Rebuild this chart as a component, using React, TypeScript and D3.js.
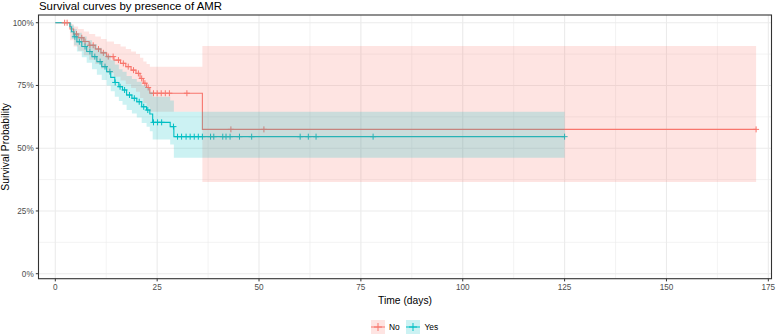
import React from "react";
import * as d3 from "d3";

const W = 776;
const H = 335;

const groups = ["No", "Yes"];
const lineColors = ["#F8766D", "#00BFC4"];

// Kaplan–Meier estimates for patients without AMR
const noTime = [0, 3.6, 4.5, 5.6, 7.0, 8.3, 9.8, 11.2, 12.6, 14.4, 16.0, 17.3, 18.6, 19.8, 20.8, 21.6, 22.4, 23.2, 36.1];
const noSurv = [1, 0.975, 0.955, 0.94, 0.925, 0.91, 0.895, 0.88, 0.865, 0.851, 0.838, 0.825, 0.811, 0.798, 0.778, 0.759, 0.742, 0.719, 0.575];
const noUpper = [1, 0.995, 0.985, 0.975, 0.965, 0.955, 0.945, 0.935, 0.925, 0.915, 0.905, 0.895, 0.885, 0.875, 0.86, 0.845, 0.835, 0.825, 0.907];
const noLower = [1, 0.93, 0.905, 0.888, 0.87, 0.852, 0.835, 0.818, 0.8, 0.785, 0.77, 0.755, 0.74, 0.725, 0.7, 0.68, 0.665, 0.645, 0.365];
const noCensor = [2.3, 2.9, 5.2, 6.5, 7.3, 8.5, 9.3, 10.6, 11.8, 13.0, 14.2, 15.5, 16.7, 17.9, 19.2, 20.4, 21.2, 22.0, 22.8, 24.1, 25.0, 26.0, 27.0, 28.0, 32.3, 43.1, 51.2, 172];
const noEnd = 172;

// Kaplan–Meier estimates for patients with AMR
const yesTime = [0, 3.6, 4.0, 4.6, 5.3, 6.5, 7.7, 9.0, 10.2, 11.4, 12.6, 13.6, 14.6, 15.6, 16.5, 17.5, 18.8, 20.0, 21.2, 22.4, 23.2, 23.9, 28.2, 29.1];
const yesSurv = [1, 0.984, 0.964, 0.944, 0.924, 0.905, 0.885, 0.865, 0.845, 0.825, 0.805, 0.782, 0.762, 0.745, 0.732, 0.712, 0.699, 0.685, 0.665, 0.652, 0.636, 0.603, 0.586, 0.546];
const yesUpper = [1, 1.0, 0.99, 0.975, 0.96, 0.945, 0.93, 0.915, 0.9, 0.885, 0.87, 0.85, 0.833, 0.815, 0.805, 0.788, 0.776, 0.765, 0.75, 0.74, 0.725, 0.705, 0.69, 0.645];
const yesLower = [1, 0.96, 0.935, 0.91, 0.885, 0.862, 0.84, 0.815, 0.793, 0.772, 0.75, 0.727, 0.705, 0.688, 0.673, 0.652, 0.638, 0.622, 0.6, 0.585, 0.568, 0.535, 0.515, 0.462];
const yesCensor = [4.8, 5.9, 7.3, 8.5, 9.7, 11.0, 12.2, 13.4, 14.7, 15.9, 17.0, 18.2, 19.4, 20.6, 21.7, 22.7, 24.1, 25.1, 26.1, 29.0, 30.0, 31.0, 32.1, 33.1, 34.1, 35.1, 36.1, 38.1, 38.9, 41.1, 41.9, 42.9, 45.2, 48.2, 60.1, 62.1, 64.0, 78.0, 125];
const yesEnd = 125;

const xTicks = [0, 25, 50, 75, 100, 125, 150, 175];
const xMinor = [12.5, 37.5, 62.5, 87.5, 112.5, 137.5, 162.5];
const yTicks = [0, 0.25, 0.5, 0.75, 1];
const yTickLabels = ["0%", "25%", "50%", "75%", "100%"];
const yMinor = [0.125, 0.375, 0.625, 0.875];

const FONT = "'Liberation Sans', Arial, Helvetica, sans-serif";

type Series = {
  name: string;
  color: string;
  time: number[];
  surv: number[];
  upper: number[];
  lower: number[];
  censor: number[];
  end: number;
};

const series: Series[] = [
  { name: groups[0], color: lineColors[0], time: noTime, surv: noSurv, upper: noUpper, lower: noLower, censor: noCensor, end: noEnd },
  { name: groups[1], color: lineColors[1], time: yesTime, surv: yesSurv, upper: yesUpper, lower: yesLower, censor: yesCensor, end: yesEnd },
];

export default function App() {
  const left = 38.5;
  const right = 771.5;
  const top = 15;
  const bottom = 278.7;

  const x = d3.scaleLinear().domain([-4.123, 175.78]).range([left, right]);
  const y = d3.scaleLinear().domain([-0.0199, 1.0307]).range([bottom, top]);

  const line = d3
    .line<[number, number]>()
    .x((d) => x(d[0]))
    .y((d) => y(d[1]))
    .curve(d3.curveStepAfter);

  const area = d3
    .area<[number, number, number]>()
    .x((d) => x(d[0]))
    .y0((d) => y(d[2]))
    .y1((d) => y(d[1]))
    .curve(d3.curveStepAfter);

  const stepPoints = (s: Series): [number, number][] => {
    const pts: [number, number][] = s.time.map((t, i) => [t, s.surv[i]]);
    pts.push([s.end, s.surv[s.surv.length - 1]]);
    return pts;
  };

  const bandPoints = (s: Series): [number, number, number][] => {
    const pts: [number, number, number][] = s.time.map((t, i) => [t, s.upper[i], s.lower[i]]);
    const n = s.time.length - 1;
    pts.push([s.end, s.upper[n], s.lower[n]]);
    return pts;
  };

  const survAt = (s: Series, t: number) => {
    const i = Math.max(0, d3.bisectRight(s.time, t) - 1);
    return s.surv[i];
  };

  const plus = (cx: number, cy: number, r: number) =>
    `M${cx - r},${cy}H${cx + r}M${cx},${cy - r}V${cy + r}`;

  const legendY = 327;
  const legendItems = [
    { key: 378, text: 389 },
    { key: 413, text: 424.5 },
  ];

  return (
    <svg
      width={W}
      height={H}
      viewBox={`0 0 ${W} ${H}`}
      style={{ position: "fixed", left: 0, top: 0, background: "#fff" }}
      fontFamily={FONT}
    >
      <rect x={0} y={0} width={W} height={H} fill="#fff" />

      {/* grid */}
      <g>
        {xMinor.map((t) => (
          <line key={`xm${t}`} x1={x(t)} x2={x(t)} y1={top} y2={bottom} stroke="#EBEBEB" strokeWidth={0.6} />
        ))}
        {yMinor.map((v) => (
          <line key={`ym${v}`} x1={left} x2={right} y1={y(v)} y2={y(v)} stroke="#EBEBEB" strokeWidth={0.6} />
        ))}
        {xTicks.map((t) => (
          <line key={`xg${t}`} x1={x(t)} x2={x(t)} y1={top} y2={bottom} stroke="#EBEBEB" strokeWidth={1.1} />
        ))}
        {yTicks.map((v) => (
          <line key={`yg${v}`} x1={left} x2={right} y1={y(v)} y2={y(v)} stroke="#EBEBEB" strokeWidth={1.1} />
        ))}
      </g>

      {/* survival steps */}
      {series.map((s) => (
        <path key={`l${s.name}`} d={line(stepPoints(s)) ?? ""} fill="none" stroke={s.color} strokeWidth={1.1} />
      ))}

      {/* censoring marks */}
      {series.map((s) => (
        <path
          key={`c${s.name}`}
          d={s.censor.map((t) => plus(x(t), y(survAt(s, t)), 3)).join("")}
          fill="none"
          stroke={s.color}
          strokeWidth={1}
        />
      ))}

      {/* confidence bands */}
      {series.map((s) => (
        <path key={`b${s.name}`} d={area(bandPoints(s)) ?? ""} fill={s.color} fillOpacity={0.2} stroke="none" />
      ))}

      {/* panel border */}
      <rect x={left} y={top} width={right - left} height={bottom - top} fill="none" stroke="#333333" strokeWidth={1.1} />

      {/* x axis */}
      {xTicks.map((t) => (
        <g key={`xt${t}`}>
          <line x1={x(t)} x2={x(t)} y1={bottom} y2={bottom + 2.7} stroke="#333333" strokeWidth={1} />
          <text x={x(t)} y={bottom + 11.5} textAnchor="middle" fontSize={8.2} fill="#4D4D4D">
            {t}
          </text>
        </g>
      ))}

      {/* y axis */}
      {yTicks.map((v, i) => (
        <g key={`yt${v}`}>
          <line x1={left - 2.7} x2={left} y1={y(v)} y2={y(v)} stroke="#333333" strokeWidth={1} />
          <text x={left - 4.8} y={y(v) + 2.9} textAnchor="end" fontSize={8.2} fill="#4D4D4D">
            {yTickLabels[i]}
          </text>
        </g>
      ))}

      <text x={(left + right) / 2} y={303.5} textAnchor="middle" fontSize={10.3} fill="#000">
        Time (days)
      </text>
      <text
        transform={`translate(${8.6},${(top + bottom) / 2}) rotate(-90)`}
        textAnchor="middle"
        fontSize={10.3}
        fill="#000"
      >
        Survival Probability
      </text>

      <text x={39} y={9.6} fontSize={11.4} fill="#000">
        Survival curves by presence of AMR
      </text>

      {/* legend */}
      {series.map((s, i) => {
        const k = legendItems[i];
        return (
          <g key={`lg${s.name}`}>
            <rect x={k.key - 7} y={legendY - 7} width={14} height={14} fill={s.color} fillOpacity={0.2} />
            <path d={`M${k.key - 7},${legendY}H${k.key + 7}`} stroke={s.color} strokeWidth={1} />
            <path d={plus(k.key, legendY, 4)} stroke={s.color} strokeWidth={1} fill="none" />
            <text x={k.text} y={legendY + 3} fontSize={8.4} fill="#000">
              {s.name}
            </text>
          </g>
        );
      })}
    </svg>
  );
}
